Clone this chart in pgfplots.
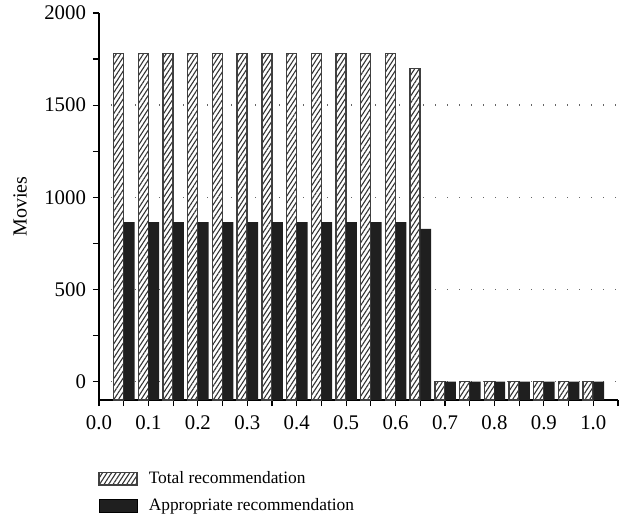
\documentclass[border=0pt]{standalone}
\usepackage{fontspec}
\setmainfont{Liberation Serif}
\usepackage{pgfplots}
\usepackage{pgfplotstable}
\pgfplotsset{compat=1.18}
\usetikzlibrary{patterns.meta}

% threshold, total recommended movies, appropriate recommendations
\pgfplotstableread{
x     total appropriate
0.05  1780  865
0.10  1780  865
0.15  1780  865
0.20  1780  865
0.25  1780  865
0.30  1780  865
0.35  1780  865
0.40  1780  865
0.45  1780  865
0.50  1780  865
0.55  1780  865
0.60  1780  865
0.65  1700  828
0.70  0     0
0.75  0     0
0.80  0     0
0.85  0     0
0.90  0     0
0.95  0     0
1.00  0     0
}\moviedata

\tikzset{
  hatched/.style={fill=white, draw=black!75, line width=0.7pt,
    postaction={pattern={Lines[angle=57,distance=1.9pt,line width=0.55pt]}, pattern color=black!80}},
  solidbar/.style={fill=black!88, draw=none},
}
\pgfplotsset{
  boxlegend/.style={legend image code/.code={%
    \draw[##1] (0pt,-3.2pt) rectangle (19pt,3.2pt);}},
}

\begin{document}
\begin{tikzpicture}
\begin{axis}[
  name=main,
  scale only axis,
  width=259.5pt, height=193.5pt,
  xmin=0, xmax=1.05,
  ymin=-100, ymax=2000,
  % bars rise from the bottom of the axis (-100) rather than from zero
  y coord trafo/.code={\pgfmathparse{#1+100}},
  y coord inv trafo/.code={\pgfmathparse{#1-100}},
  axis lines*=left,
  axis line style={line width=0.6pt, black},
  xtick={0,0.1,0.2,0.3,0.4,0.5,0.6,0.7,0.8,0.9,1.0},
  xticklabels={0.0,0.1,0.2,0.3,0.4,0.5,0.6,0.7,0.8,0.9,1.0},
  minor xtick={0.05,0.15,0.25,0.35,0.45,0.55,0.65,0.75,0.85,0.95,1.05},
  ytick={0,500,1000,1500},
  yticklabels={0,500,1000,1500},
  extra y ticks={2000},
  extra y tick labels={2000},
  extra y tick style={grid=none},
  minor ytick={250,750,1250,1750},
  tick align=outside,
  tick pos=left,
  major tick length=3pt,
  minor tick length=3pt,
  every tick/.style={black, line width=0.6pt},
  ymajorgrids,
  major grid style={black!60, line width=0.7pt, dash pattern=on 0.7pt off 5.3pt},
  tick label style={font=\fontsize{10.4}{12}\selectfont},
  xticklabel style={yshift=-1.5pt},
  ylabel={Movies},
  ylabel style={font=\fontsize{10}{12}\selectfont, at={(axis description cs:-0.152,0.5)}, anchor=center},
  legend style={at={(-0.002,-0.181)}, anchor=north west, draw=none, fill=none,
    inner sep=0pt, column sep=5.5pt, row sep=5.3pt,
    font=\fontsize{8.7}{11}\selectfont,
    nodes={inner sep=0pt, text height=6.3pt, text depth=2pt}},
  legend cell align=left,
]
\addplot[ybar, bar width=5.0pt, bar shift=-2.6pt, hatched, boxlegend]
  table[x=x, y=total] {\moviedata};
\addlegendentry{Total recommendation}
\addplot[ybar, bar width=5.4pt, bar shift=2.7pt, solidbar, boxlegend]
  table[x=x, y=appropriate] {\moviedata};
\addlegendentry{Appropriate recommendation}
\end{axis}
\pgfresetboundingbox
\path[use as bounding box]
  ([shift={(-49.5pt,-59.5pt)}]main.south west) rectangle
  ([shift={(263pt,200pt)}]main.south west);
\end{tikzpicture}
\end{document}
